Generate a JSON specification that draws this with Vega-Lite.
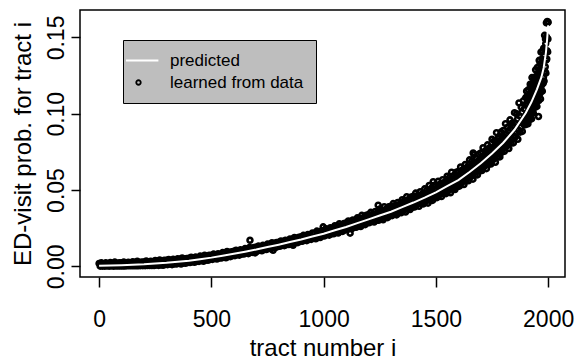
{
"$schema": "https://vega.github.io/schema/vega-lite/v6.json",
"width": 485, "height": 267,
"autosize": {"type": "none"},
"padding": {"left": 80, "top": 10, "right": 12, "bottom": 83},
"background": "white",
"config": {
  "font": "Liberation Sans",
  "view": {"stroke": "black", "strokeWidth": 1.5},
  "axis": {"domain": false, "grid": false, "ticks": true, "tickColor": "black", "tickWidth": 1.5, "labelColor": "black", "titleColor": "black", "labelFontSize": 23, "titleFontSize": 24, "titleFontWeight": "normal", "labelFont": "Liberation Sans", "titleFont": "Liberation Sans"}
},
"datasets": {
"learned": [
{"i":0,"v":0.0019,"s":"L"},{"i":5,"v":0.0001,"s":"L"},{"i":10,"v":0.0024,"s":"L"},{"i":15,"v":0.0001,"s":"L"},{"i":20,"v":0.0017,"s":"L"},{"i":25,"v":0.0001,"s":"L"},{"i":30,"v":0.0023,"s":"L"},{"i":35,"v":0.0002,"s":"L"},{"i":40,"v":0.0016,"s":"L"},{"i":45,"v":0.0001,"s":"L"},
{"i":50,"v":0.0025,"s":"L"},{"i":55,"v":0.0002,"s":"L"},{"i":60,"v":0.0020,"s":"L"},{"i":65,"v":0.0001,"s":"L"},{"i":70,"v":0.0028,"s":"L"},{"i":75,"v":0.0002,"s":"L"},{"i":80,"v":0.0020,"s":"L"},{"i":85,"v":0.0002,"s":"L"},{"i":90,"v":0.0023,"s":"L"},{"i":95,"v":0.0002,"s":"L"},
{"i":100,"v":0.0023,"s":"L"},{"i":105,"v":0.0002,"s":"L"},{"i":110,"v":0.0028,"s":"L"},{"i":115,"v":0.0002,"s":"L"},{"i":120,"v":0.0021,"s":"L"},{"i":125,"v":0.0003,"s":"L"},{"i":130,"v":0.0027,"s":"L"},{"i":135,"v":0.0003,"s":"L"},{"i":140,"v":0.0021,"s":"L"},{"i":145,"v":0.0003,"s":"L"},
{"i":150,"v":0.0030,"s":"L"},{"i":155,"v":0.0003,"s":"L"},{"i":160,"v":0.0025,"s":"L"},{"i":165,"v":0.0003,"s":"L"},{"i":170,"v":0.0034,"s":"L"},{"i":175,"v":0.0003,"s":"L"},{"i":180,"v":0.0025,"s":"L"},{"i":185,"v":0.0004,"s":"L"},{"i":190,"v":0.0029,"s":"L"},{"i":195,"v":0.0004,"s":"L"},
{"i":200,"v":0.0029,"s":"L"},{"i":205,"v":0.0004,"s":"L"},{"i":210,"v":0.0035,"s":"L"},{"i":215,"v":0.0005,"s":"L"},{"i":220,"v":0.0028,"s":"L"},{"i":225,"v":0.0005,"s":"L"},{"i":230,"v":0.0034,"s":"L"},{"i":235,"v":0.0005,"s":"L"},{"i":240,"v":0.0028,"s":"L"},{"i":245,"v":0.0005,"s":"L"},
{"i":250,"v":0.0038,"s":"L"},{"i":255,"v":0.0008,"s":"L"},{"i":260,"v":0.0033,"s":"L"},{"i":265,"v":0.0006,"s":"L"},{"i":270,"v":0.0042,"s":"L"},{"i":275,"v":0.0008,"s":"L"},{"i":280,"v":0.0035,"s":"L"},{"i":285,"v":0.0007,"s":"L"},{"i":290,"v":0.0039,"s":"L"},{"i":295,"v":0.0012,"s":"L"},
{"i":300,"v":0.0039,"s":"L"},{"i":305,"v":0.0011,"s":"L"},{"i":310,"v":0.0045,"s":"L"},{"i":315,"v":0.0015,"s":"L"},{"i":320,"v":0.0039,"s":"L"},{"i":325,"v":0.0011,"s":"L"},{"i":330,"v":0.0046,"s":"L"},{"i":335,"v":0.0016,"s":"L"},{"i":340,"v":0.0040,"s":"L"},{"i":345,"v":0.0015,"s":"L"},
{"i":350,"v":0.0050,"s":"L"},{"i":355,"v":0.0020,"s":"L"},{"i":360,"v":0.0046,"s":"L"},{"i":365,"v":0.0015,"s":"L"},{"i":370,"v":0.0055,"s":"L"},{"i":375,"v":0.0021,"s":"L"},{"i":380,"v":0.0048,"s":"L"},{"i":385,"v":0.0020,"s":"L"},{"i":390,"v":0.0052,"s":"L"},{"i":395,"v":0.0025,"s":"L"},
{"i":400,"v":0.0053,"s":"L"},{"i":405,"v":0.0025,"s":"L"},{"i":410,"v":0.0060,"s":"L"},{"i":415,"v":0.0030,"s":"L"},{"i":420,"v":0.0054,"s":"L"},{"i":425,"v":0.0026,"s":"L"},{"i":430,"v":0.0061,"s":"L"},{"i":435,"v":0.0032,"s":"L"},{"i":440,"v":0.0056,"s":"L"},{"i":445,"v":0.0032,"s":"L"},
{"i":450,"v":0.0067,"s":"L"},{"i":455,"v":0.0038,"s":"L"},{"i":460,"v":0.0063,"s":"L"},{"i":465,"v":0.0033,"s":"L"},{"i":470,"v":0.0073,"s":"L"},{"i":475,"v":0.0040,"s":"L"},{"i":480,"v":0.0067,"s":"L"},{"i":485,"v":0.0039,"s":"L"},{"i":490,"v":0.0072,"s":"L"},{"i":495,"v":0.0045,"s":"L"},
{"i":500,"v":0.0073,"s":"L"},{"i":505,"v":0.0045,"s":"L"},{"i":510,"v":0.0080,"s":"L"},{"i":515,"v":0.0051,"s":"L"},{"i":520,"v":0.0075,"s":"L"},{"i":525,"v":0.0048,"s":"L"},{"i":530,"v":0.0083,"s":"L"},{"i":535,"v":0.0054,"s":"L"},{"i":540,"v":0.0078,"s":"L"},{"i":545,"v":0.0054,"s":"L"},
{"i":550,"v":0.0090,"s":"L"},{"i":555,"v":0.0060,"s":"L"},{"i":560,"v":0.0086,"s":"L"},{"i":565,"v":0.0056,"s":"L"},{"i":570,"v":0.0097,"s":"L"},{"i":575,"v":0.0063,"s":"L"},{"i":580,"v":0.0091,"s":"L"},{"i":585,"v":0.0063,"s":"L"},{"i":590,"v":0.0096,"s":"L"},{"i":595,"v":0.0070,"s":"L"},
{"i":600,"v":0.0098,"s":"L"},{"i":605,"v":0.0070,"s":"L"},{"i":610,"v":0.0106,"s":"L"},{"i":615,"v":0.0076,"s":"L"},{"i":620,"v":0.0100,"s":"L"},{"i":625,"v":0.0073,"s":"L"},{"i":630,"v":0.0109,"s":"L"},{"i":635,"v":0.0080,"s":"L"},{"i":640,"v":0.0104,"s":"L"},{"i":645,"v":0.0080,"s":"L"},
{"i":650,"v":0.0116,"s":"L"},{"i":655,"v":0.0087,"s":"L"},{"i":660,"v":0.0113,"s":"L"},{"i":665,"v":0.0083,"s":"L"},{"i":670,"v":0.0124,"s":"L"},{"i":672,"v":0.0171,"s":"L"},{"i":675,"v":0.0091,"s":"L"},{"i":680,"v":0.0118,"s":"L"},{"i":685,"v":0.0091,"s":"L"},{"i":690,"v":0.0124,"s":"L"},{"i":695,"v":0.0088,"s":"L"},
{"i":700,"v":0.0126,"s":"L"},{"i":705,"v":0.0099,"s":"L"},{"i":710,"v":0.0134,"s":"L"},{"i":715,"v":0.0105,"s":"L"},{"i":720,"v":0.0129,"s":"L"},{"i":725,"v":0.0102,"s":"L"},{"i":730,"v":0.0138,"s":"L"},{"i":735,"v":0.0110,"s":"L"},{"i":740,"v":0.0134,"s":"L"},{"i":745,"v":0.0110,"s":"L"},
{"i":750,"v":0.0146,"s":"L"},{"i":755,"v":0.0117,"s":"L"},{"i":760,"v":0.0144,"s":"L"},{"i":765,"v":0.0114,"s":"L"},{"i":770,"v":0.0155,"s":"L"},{"i":775,"v":0.0105,"s":"L"},{"i":780,"v":0.0149,"s":"L"},{"i":785,"v":0.0122,"s":"L"},{"i":790,"v":0.0156,"s":"L"},{"i":795,"v":0.0129,"s":"L"},
{"i":800,"v":0.0158,"s":"L"},{"i":805,"v":0.0131,"s":"L"},{"i":810,"v":0.0166,"s":"L"},{"i":815,"v":0.0137,"s":"L"},{"i":820,"v":0.0162,"s":"L"},{"i":825,"v":0.0135,"s":"L"},{"i":830,"v":0.0171,"s":"L"},{"i":835,"v":0.0142,"s":"L"},{"i":840,"v":0.0167,"s":"L"},{"i":845,"v":0.0143,"s":"L"},
{"i":850,"v":0.0179,"s":"L"},{"i":855,"v":0.0150,"s":"L"},{"i":860,"v":0.0177,"s":"L"},{"i":864,"v":0.0138,"s":"L"},{"i":865,"v":0.0147,"s":"L"},{"i":870,"v":0.0189,"s":"L"},{"i":875,"v":0.0155,"s":"L"},{"i":880,"v":0.0184,"s":"L"},{"i":885,"v":0.0155,"s":"L"},{"i":890,"v":0.0191,"s":"L"},{"i":895,"v":0.0163,"s":"L"},
{"i":900,"v":0.0194,"s":"L"},{"i":905,"v":0.0164,"s":"L"},{"i":910,"v":0.0203,"s":"L"},{"i":915,"v":0.0171,"s":"L"},{"i":920,"v":0.0198,"s":"L"},{"i":925,"v":0.0168,"s":"L"},{"i":930,"v":0.0209,"s":"L"},{"i":935,"v":0.0176,"s":"L"},{"i":940,"v":0.0205,"s":"L"},{"i":945,"v":0.0176,"s":"L"},
{"i":950,"v":0.0219,"s":"L"},{"i":955,"v":0.0184,"s":"L"},{"i":960,"v":0.0217,"s":"L"},{"i":965,"v":0.0180,"s":"L"},{"i":970,"v":0.0231,"s":"L"},{"i":975,"v":0.0189,"s":"L"},{"i":980,"v":0.0224,"s":"L"},{"i":985,"v":0.0189,"s":"L"},{"i":990,"v":0.0232,"s":"L"},{"i":995,"v":0.0198,"s":"L"},{"i":998,"v":0.0259,"s":"L"},
{"i":1000,"v":0.0235,"s":"L"},{"i":1005,"v":0.0199,"s":"L"},{"i":1010,"v":0.0247,"s":"L"},{"i":1015,"v":0.0208,"s":"L"},{"i":1020,"v":0.0241,"s":"L"},{"i":1025,"v":0.0204,"s":"L"},{"i":1030,"v":0.0253,"s":"L"},{"i":1035,"v":0.0213,"s":"L"},{"i":1040,"v":0.0248,"s":"L"},{"i":1045,"v":0.0213,"s":"L"},
{"i":1050,"v":0.0266,"s":"L"},{"i":1055,"v":0.0223,"s":"L"},{"i":1060,"v":0.0262,"s":"L"},{"i":1065,"v":0.0218,"s":"L"},{"i":1070,"v":0.0279,"s":"L"},{"i":1075,"v":0.0228,"s":"L"},{"i":1080,"v":0.0270,"s":"L"},{"i":1085,"v":0.0229,"s":"L"},{"i":1090,"v":0.0280,"s":"L"},{"i":1095,"v":0.0239,"s":"L"},
{"i":1100,"v":0.0284,"s":"L"},{"i":1105,"v":0.0240,"s":"L"},{"i":1110,"v":0.0297,"s":"L"},{"i":1115,"v":0.0250,"s":"L"},{"i":1118,"v":0.0217,"s":"L"},{"i":1120,"v":0.0289,"s":"L"},{"i":1125,"v":0.0245,"s":"L"},{"i":1130,"v":0.0304,"s":"L"},{"i":1135,"v":0.0256,"s":"L"},{"i":1140,"v":0.0298,"s":"L"},{"i":1145,"v":0.0256,"s":"L"},
{"i":1150,"v":0.0318,"s":"L"},{"i":1155,"v":0.0267,"s":"L"},{"i":1160,"v":0.0314,"s":"L"},{"i":1165,"v":0.0261,"s":"L"},{"i":1170,"v":0.0334,"s":"L"},{"i":1175,"v":0.0273,"s":"L"},{"i":1180,"v":0.0323,"s":"L"},{"i":1185,"v":0.0273,"s":"L"},{"i":1190,"v":0.0335,"s":"L"},{"i":1195,"v":0.0285,"s":"L"},
{"i":1200,"v":0.0339,"s":"L"},{"i":1205,"v":0.0286,"s":"L"},{"i":1210,"v":0.0354,"s":"L"},{"i":1215,"v":0.0297,"s":"L"},{"i":1220,"v":0.0343,"s":"L"},{"i":1225,"v":0.0290,"s":"L"},{"i":1230,"v":0.0360,"s":"L"},{"i":1235,"v":0.0302,"s":"L"},{"i":1240,"v":0.0351,"s":"L"},{"i":1243,"v":0.0401,"s":"L"},{"i":1245,"v":0.0302,"s":"L"},
{"i":1250,"v":0.0375,"s":"L"},{"i":1255,"v":0.0314,"s":"L"},{"i":1260,"v":0.0368,"s":"L"},{"i":1265,"v":0.0305,"s":"L"},{"i":1270,"v":0.0391,"s":"L"},{"i":1275,"v":0.0320,"s":"L"},{"i":1280,"v":0.0378,"s":"L"},{"i":1285,"v":0.0319,"s":"L"},{"i":1290,"v":0.0390,"s":"L"},{"i":1295,"v":0.0332,"s":"L"},
{"i":1300,"v":0.0394,"s":"L"},{"i":1305,"v":0.0332,"s":"L"},{"i":1310,"v":0.0411,"s":"L"},{"i":1315,"v":0.0345,"s":"L"},{"i":1320,"v":0.0400,"s":"L"},{"i":1325,"v":0.0337,"s":"L"},{"i":1330,"v":0.0419,"s":"L"},{"i":1335,"v":0.0352,"s":"L"},{"i":1340,"v":0.0409,"s":"L"},{"i":1345,"v":0.0351,"s":"L"},
{"i":1350,"v":0.0437,"s":"L"},{"i":1355,"v":0.0366,"s":"L"},{"i":1360,"v":0.0430,"s":"L"},{"i":1365,"v":0.0356,"s":"L"},{"i":1370,"v":0.0456,"s":"L"},{"i":1375,"v":0.0373,"s":"L"},{"i":1380,"v":0.0441,"s":"L"},{"i":1385,"v":0.0372,"s":"L"},{"i":1390,"v":0.0455,"s":"L"},{"i":1395,"v":0.0387,"s":"L"},
{"i":1400,"v":0.0460,"s":"L"},{"i":1405,"v":0.0388,"s":"L"},{"i":1410,"v":0.0480,"s":"L"},{"i":1415,"v":0.0403,"s":"L"},{"i":1420,"v":0.0466,"s":"L"},{"i":1425,"v":0.0393,"s":"L"},{"i":1430,"v":0.0489,"s":"L"},{"i":1435,"v":0.0410,"s":"L"},{"i":1440,"v":0.0476,"s":"L"},{"i":1445,"v":0.0409,"s":"L"},
{"i":1450,"v":0.0508,"s":"L"},{"i":1455,"v":0.0426,"s":"L"},{"i":1460,"v":0.0499,"s":"L"},{"i":1465,"v":0.0414,"s":"L"},{"i":1470,"v":0.0530,"s":"L"},{"i":1475,"v":0.0433,"s":"L"},{"i":1480,"v":0.0512,"s":"L"},{"i":1485,"v":0.0432,"s":"L"},{"i":1488,"v":0.0555,"s":"L"},{"i":1490,"v":0.0529,"s":"L"},{"i":1495,"v":0.0449,"s":"L"},
{"i":1500,"v":0.0534,"s":"L"},{"i":1505,"v":0.0450,"s":"L"},{"i":1510,"v":0.0557,"s":"L"},{"i":1515,"v":0.0467,"s":"L"},{"i":1520,"v":0.0541,"s":"L"},{"i":1525,"v":0.0457,"s":"L"},{"i":1530,"v":0.0568,"s":"L"},{"i":1535,"v":0.0476,"s":"L"},{"i":1540,"v":0.0553,"s":"L"},{"i":1545,"v":0.0476,"s":"L"},
{"i":1550,"v":0.0591,"s":"L"},{"i":1555,"v":0.0495,"s":"L"},{"i":1560,"v":0.0581,"s":"L"},{"i":1565,"v":0.0482,"s":"L"},{"i":1570,"v":0.0617,"s":"L"},{"i":1575,"v":0.0504,"s":"L"},{"i":1580,"v":0.0596,"s":"L"},{"i":1585,"v":0.0503,"s":"L"},{"i":1590,"v":0.0616,"s":"L"},{"i":1595,"v":0.0523,"s":"L"},
{"i":1600,"v":0.0622,"s":"L"},{"i":1605,"v":0.0525,"s":"L"},{"i":1610,"v":0.0651,"s":"L"},{"i":1615,"v":0.0547,"s":"L"},{"i":1620,"v":0.0634,"s":"L"},{"i":1625,"v":0.0536,"s":"L"},{"i":1630,"v":0.0667,"s":"L"},{"i":1635,"v":0.0561,"s":"L"},{"i":1640,"v":0.0652,"s":"L"},{"i":1645,"v":0.0561,"s":"L"},
{"i":1650,"v":0.0698,"s":"L"},{"i":1655,"v":0.0586,"s":"L"},{"i":1660,"v":0.0688,"s":"L"},{"i":1665,"v":0.0571,"s":"L"},{"i":1666,"v":0.0743,"s":"L"},{"i":1670,"v":0.0732,"s":"L"},{"i":1675,"v":0.0599,"s":"L"},{"i":1680,"v":0.0709,"s":"L"},{"i":1685,"v":0.0599,"s":"L"},{"i":1690,"v":0.0734,"s":"L"},{"i":1695,"v":0.0624,"s":"L"},
{"i":1700,"v":0.0743,"s":"L"},{"i":1705,"v":0.0628,"s":"L"},{"i":1710,"v":0.0777,"s":"L"},{"i":1715,"v":0.0653,"s":"L"},{"i":1720,"v":0.0757,"s":"L"},{"i":1725,"v":0.0640,"s":"L"},{"i":1730,"v":0.0796,"s":"L"},{"i":1735,"v":0.0669,"s":"L"},{"i":1740,"v":0.0778,"s":"L"},{"i":1745,"v":0.0670,"s":"L"},
{"i":1750,"v":0.0833,"s":"L"},{"i":1755,"v":0.0699,"s":"L"},{"i":1760,"v":0.0822,"s":"L"},{"i":1765,"v":0.0682,"s":"L"},{"i":1770,"v":0.0876,"s":"L"},{"i":1775,"v":0.0716,"s":"L"},{"i":1779,"v":0.0840,"s":"L"},{"i":1780,"v":0.0849,"s":"L"},{"i":1785,"v":0.0717,"s":"L"},{"i":1790,"v":0.0880,"s":"L"},{"i":1795,"v":0.0749,"s":"L"},
{"i":1800,"v":0.0891,"s":"L"},{"i":1805,"v":0.0754,"s":"L"},{"i":1810,"v":0.0935,"s":"L"},{"i":1815,"v":0.0786,"s":"L"},{"i":1820,"v":0.0912,"s":"L"},{"i":1825,"v":0.0772,"s":"L"},{"i":1830,"v":0.0960,"s":"L"},{"i":1835,"v":0.0808,"s":"L"},{"i":1840,"v":0.0940,"s":"L"},{"i":1845,"v":0.0809,"s":"L"},
{"i":1850,"v":0.1007,"s":"L"},{"i":1855,"v":0.0849,"s":"L"},{"i":1860,"v":0.1000,"s":"L"},{"i":1865,"v":0.0833,"s":"L"},{"i":1870,"v":0.1071,"s":"L"},{"i":1875,"v":0.0879,"s":"L"},{"i":1880,"v":0.1043,"s":"L"},{"i":1885,"v":0.0884,"s":"L"},{"i":1890,"v":0.1086,"s":"L"},{"i":1895,"v":0.0927,"s":"L"},
{"i":1900,"v":0.1106,"s":"L"},{"i":1902,"v":0.0930,"s":"L"},{"i":1904,"v":0.1148,"s":"L"},{"i":1906,"v":0.0961,"s":"L"},{"i":1908,"v":0.1109,"s":"L"},{"i":1910,"v":0.0934,"s":"L"},{"i":1912,"v":0.1158,"s":"L"},{"i":1914,"v":0.0969,"s":"L"},{"i":1916,"v":0.1124,"s":"L"},{"i":1918,"v":0.0963,"s":"L"},
{"i":1920,"v":0.1194,"s":"L"},{"i":1922,"v":0.0999,"s":"L"},{"i":1924,"v":0.1168,"s":"L"},{"i":1926,"v":0.0966,"s":"L"},{"i":1927,"v":0.1190,"s":"L"},{"i":1928,"v":0.1237,"s":"L"},{"i":1930,"v":0.1009,"s":"L"},{"i":1932,"v":0.1192,"s":"L"},{"i":1934,"v":0.1005,"s":"L"},{"i":1936,"v":0.1229,"s":"L"},{"i":1938,"v":0.1043,"s":"L"},
{"i":1940,"v":0.1239,"s":"L"},{"i":1942,"v":0.1042,"s":"L"},{"i":1944,"v":0.1288,"s":"L"},{"i":1946,"v":0.1077,"s":"L"},{"i":1948,"v":0.1245,"s":"L"},{"i":1950,"v":0.1048,"s":"L"},{"i":1952,"v":0.1303,"s":"L"},{"i":1954,"v":0.1091,"s":"L"},{"i":1956,"v":0.1267,"s":"L"},{"i":1957,"v":0.0982,"s":"L"},{"i":1958,"v":0.1087,"s":"L"},
{"i":1960,"v":0.1350,"s":"L"},{"i":1962,"v":0.1130,"s":"L"},{"i":1964,"v":0.1326,"s":"L"},{"i":1966,"v":0.1097,"s":"L"},{"i":1968,"v":0.1404,"s":"L"},{"i":1970,"v":0.1146,"s":"L"},{"i":1972,"v":0.1358,"s":"L"},{"i":1974,"v":0.1148,"s":"L"},{"i":1976,"v":0.1410,"s":"L"},{"i":1978,"v":0.1200,"s":"L"},
{"i":1980,"v":0.1430,"s":"L"},{"i":1982,"v":0.1214,"s":"L"},{"i":1984,"v":0.1514,"s":"L"},{"i":1986,"v":0.1278,"s":"L"},{"i":1988,"v":0.1490,"s":"L"},{"i":1990,"v":0.1266,"s":"L"},{"i":1992,"v":0.1596,"s":"L"},{"i":1994,"v":0.1359,"s":"L"},{"i":1996,"v":0.1605,"s":"L"},{"i":1998,"v":0.1405,"s":"L"},{"i":2000,"v":0.1600,"s":"L"},
{"i":1003,"v":0.0225,"s":"L"},{"i":1008,"v":0.0208,"s":"L"},{"i":1013,"v":0.0229,"s":"L"},{"i":1018,"v":0.0212,"s":"L"},{"i":1023,"v":0.0234,"s":"L"},{"i":1028,"v":0.0216,"s":"L"},{"i":1033,"v":0.0239,"s":"L"},{"i":1038,"v":0.0220,"s":"L"},{"i":1043,"v":0.0243,"s":"L"},{"i":1048,"v":0.0225,"s":"L"},
{"i":1053,"v":0.0248,"s":"L"},{"i":1058,"v":0.0229,"s":"L"},{"i":1063,"v":0.0252,"s":"L"},{"i":1068,"v":0.0233,"s":"L"},{"i":1073,"v":0.0257,"s":"L"},{"i":1078,"v":0.0237,"s":"L"},{"i":1083,"v":0.0262,"s":"L"},{"i":1088,"v":0.0241,"s":"L"},{"i":1093,"v":0.0266,"s":"L"},{"i":1098,"v":0.0246,"s":"L"},
{"i":1103,"v":0.0271,"s":"L"},{"i":1108,"v":0.0250,"s":"L"},{"i":1113,"v":0.0276,"s":"L"},{"i":1118,"v":0.0255,"s":"L"},{"i":1123,"v":0.0281,"s":"L"},{"i":1128,"v":0.0260,"s":"L"},{"i":1133,"v":0.0287,"s":"L"},{"i":1138,"v":0.0265,"s":"L"},{"i":1143,"v":0.0292,"s":"L"},{"i":1148,"v":0.0269,"s":"L"},
{"i":1153,"v":0.0297,"s":"L"},{"i":1158,"v":0.0274,"s":"L"},{"i":1163,"v":0.0302,"s":"L"},{"i":1168,"v":0.0279,"s":"L"},{"i":1173,"v":0.0308,"s":"L"},{"i":1178,"v":0.0284,"s":"L"},{"i":1183,"v":0.0313,"s":"L"},{"i":1188,"v":0.0288,"s":"L"},{"i":1193,"v":0.0318,"s":"L"},{"i":1198,"v":0.0293,"s":"L"},
{"i":1203,"v":0.0323,"s":"L"},{"i":1208,"v":0.0298,"s":"L"},{"i":1213,"v":0.0329,"s":"L"},{"i":1218,"v":0.0303,"s":"L"},{"i":1223,"v":0.0334,"s":"L"},{"i":1228,"v":0.0308,"s":"L"},{"i":1233,"v":0.0339,"s":"L"},{"i":1238,"v":0.0312,"s":"L"},{"i":1243,"v":0.0344,"s":"L"},{"i":1248,"v":0.0317,"s":"L"},
{"i":1253,"v":0.0350,"s":"L"},{"i":1258,"v":0.0322,"s":"L"},{"i":1263,"v":0.0355,"s":"L"},{"i":1268,"v":0.0327,"s":"L"},{"i":1273,"v":0.0360,"s":"L"},{"i":1278,"v":0.0331,"s":"L"},{"i":1283,"v":0.0365,"s":"L"},{"i":1288,"v":0.0336,"s":"L"},{"i":1293,"v":0.0371,"s":"L"},{"i":1298,"v":0.0341,"s":"L"},
{"i":1303,"v":0.0376,"s":"L"},{"i":1308,"v":0.0347,"s":"L"},{"i":1313,"v":0.0382,"s":"L"},{"i":1318,"v":0.0352,"s":"L"},{"i":1323,"v":0.0389,"s":"L"},{"i":1328,"v":0.0358,"s":"L"},{"i":1333,"v":0.0395,"s":"L"},{"i":1338,"v":0.0364,"s":"L"},{"i":1343,"v":0.0401,"s":"L"},{"i":1348,"v":0.0370,"s":"L"},
{"i":1353,"v":0.0407,"s":"L"},{"i":1358,"v":0.0375,"s":"L"},{"i":1363,"v":0.0414,"s":"L"},{"i":1368,"v":0.0381,"s":"L"},{"i":1373,"v":0.0420,"s":"L"},{"i":1378,"v":0.0387,"s":"L"},{"i":1383,"v":0.0426,"s":"L"},{"i":1388,"v":0.0392,"s":"L"},{"i":1393,"v":0.0433,"s":"L"},{"i":1398,"v":0.0398,"s":"L"},
{"i":1403,"v":0.0439,"s":"L"},{"i":1408,"v":0.0404,"s":"L"},{"i":1413,"v":0.0446,"s":"L"},{"i":1418,"v":0.0411,"s":"L"},{"i":1423,"v":0.0453,"s":"L"},{"i":1428,"v":0.0417,"s":"L"},{"i":1433,"v":0.0460,"s":"L"},{"i":1438,"v":0.0423,"s":"L"},{"i":1443,"v":0.0467,"s":"L"},{"i":1448,"v":0.0430,"s":"L"},
{"i":1453,"v":0.0474,"s":"L"},{"i":1458,"v":0.0436,"s":"L"},{"i":1463,"v":0.0481,"s":"L"},{"i":1468,"v":0.0443,"s":"L"},{"i":1473,"v":0.0488,"s":"L"},{"i":1478,"v":0.0449,"s":"L"},{"i":1483,"v":0.0495,"s":"L"},{"i":1488,"v":0.0456,"s":"L"},{"i":1493,"v":0.0502,"s":"L"},{"i":1498,"v":0.0462,"s":"L"},
{"i":1503,"v":0.0509,"s":"L"},{"i":1508,"v":0.0469,"s":"L"},{"i":1513,"v":0.0518,"s":"L"},{"i":1518,"v":0.0477,"s":"L"},{"i":1523,"v":0.0526,"s":"L"},{"i":1528,"v":0.0484,"s":"L"},{"i":1533,"v":0.0534,"s":"L"},{"i":1538,"v":0.0492,"s":"L"},{"i":1543,"v":0.0543,"s":"L"},{"i":1548,"v":0.0500,"s":"L"},
{"i":1553,"v":0.0551,"s":"L"},{"i":1558,"v":0.0507,"s":"L"},{"i":1563,"v":0.0560,"s":"L"},{"i":1568,"v":0.0515,"s":"L"},{"i":1573,"v":0.0568,"s":"L"},{"i":1578,"v":0.0522,"s":"L"},{"i":1583,"v":0.0576,"s":"L"},{"i":1588,"v":0.0530,"s":"L"},{"i":1593,"v":0.0585,"s":"L"},{"i":1598,"v":0.0538,"s":"L"},
{"i":1603,"v":0.0593,"s":"L"},{"i":1608,"v":0.0548,"s":"L"},{"i":1613,"v":0.0605,"s":"L"},{"i":1618,"v":0.0559,"s":"L"},{"i":1623,"v":0.0616,"s":"L"},{"i":1628,"v":0.0569,"s":"L"},{"i":1633,"v":0.0628,"s":"L"},{"i":1638,"v":0.0580,"s":"L"},{"i":1643,"v":0.0639,"s":"L"},{"i":1648,"v":0.0590,"s":"L"},
{"i":1653,"v":0.0651,"s":"L"},{"i":1658,"v":0.0601,"s":"L"},{"i":1663,"v":0.0663,"s":"L"},{"i":1668,"v":0.0611,"s":"L"},{"i":1673,"v":0.0674,"s":"L"},{"i":1678,"v":0.0622,"s":"L"},{"i":1683,"v":0.0686,"s":"L"},{"i":1688,"v":0.0632,"s":"L"},{"i":1693,"v":0.0697,"s":"L"},{"i":1698,"v":0.0643,"s":"L"},
{"i":1703,"v":0.0709,"s":"L"},{"i":1708,"v":0.0654,"s":"L"},{"i":1713,"v":0.0722,"s":"L"},{"i":1718,"v":0.0667,"s":"L"},{"i":1723,"v":0.0736,"s":"L"},{"i":1728,"v":0.0679,"s":"L"},{"i":1733,"v":0.0750,"s":"L"},{"i":1738,"v":0.0691,"s":"L"},{"i":1743,"v":0.0763,"s":"L"},{"i":1748,"v":0.0704,"s":"L"},
{"i":1753,"v":0.0777,"s":"L"},{"i":1758,"v":0.0717,"s":"L"},{"i":1763,"v":0.0792,"s":"L"},{"i":1768,"v":0.0731,"s":"L"},{"i":1773,"v":0.0806,"s":"L"},{"i":1778,"v":0.0744,"s":"L"},{"i":1783,"v":0.0821,"s":"L"},{"i":1788,"v":0.0757,"s":"L"},{"i":1793,"v":0.0836,"s":"L"},{"i":1798,"v":0.0771,"s":"L"},
{"i":1803,"v":0.0851,"s":"L"},{"i":1808,"v":0.0787,"s":"L"},{"i":1813,"v":0.0868,"s":"L"},{"i":1818,"v":0.0803,"s":"L"},{"i":1823,"v":0.0886,"s":"L"},{"i":1828,"v":0.0819,"s":"L"},{"i":1833,"v":0.0904,"s":"L"},{"i":1838,"v":0.0836,"s":"L"},{"i":1843,"v":0.0922,"s":"L"},{"i":1848,"v":0.0852,"s":"L"},
{"i":1853,"v":0.0940,"s":"L"},{"i":1858,"v":0.0872,"s":"L"},{"i":1863,"v":0.0963,"s":"L"},{"i":1868,"v":0.0893,"s":"L"},{"i":1873,"v":0.0986,"s":"L"},{"i":1878,"v":0.0914,"s":"L"},{"i":1883,"v":0.1009,"s":"L"},{"i":1888,"v":0.0935,"s":"L"},{"i":1893,"v":0.1032,"s":"L"},{"i":1898,"v":0.0956,"s":"L"},
{"i":1901,"v":0.1058,"s":"L"},{"i":1903,"v":0.0967,"s":"L"},{"i":1905,"v":0.1070,"s":"L"},{"i":1907,"v":0.0979,"s":"L"},{"i":1909,"v":0.1082,"s":"L"},{"i":1911,"v":0.0989,"s":"L"},{"i":1913,"v":0.1093,"s":"L"},{"i":1915,"v":0.1000,"s":"L"},{"i":1917,"v":0.1106,"s":"L"},{"i":1919,"v":0.1010,"s":"L"},
{"i":1921,"v":0.1117,"s":"L"},{"i":1923,"v":0.1021,"s":"L"},{"i":1925,"v":0.1129,"s":"L"},{"i":1927,"v":0.1033,"s":"L"},{"i":1929,"v":0.1143,"s":"L"},{"i":1931,"v":0.1046,"s":"L"},{"i":1933,"v":0.1157,"s":"L"},{"i":1935,"v":0.1059,"s":"L"},{"i":1937,"v":0.1172,"s":"L"},{"i":1939,"v":0.1072,"s":"L"},
{"i":1941,"v":0.1185,"s":"L"},{"i":1943,"v":0.1085,"s":"L"},{"i":1945,"v":0.1200,"s":"L"},{"i":1947,"v":0.1098,"s":"L"},{"i":1949,"v":0.1215,"s":"L"},{"i":1951,"v":0.1112,"s":"L"},{"i":1953,"v":0.1231,"s":"L"},{"i":1955,"v":0.1127,"s":"L"},{"i":1957,"v":0.1247,"s":"L"},{"i":1959,"v":0.1142,"s":"L"},
{"i":1961,"v":0.1264,"s":"L"},{"i":1963,"v":0.1157,"s":"L"},{"i":1965,"v":0.1281,"s":"L"},{"i":1967,"v":0.1173,"s":"L"},{"i":1969,"v":0.1298,"s":"L"},{"i":1971,"v":0.1190,"s":"L"},{"i":1973,"v":0.1321,"s":"L"},{"i":1975,"v":0.1213,"s":"L"},{"i":1977,"v":0.1346,"s":"L"},{"i":1979,"v":0.1236,"s":"L"},
{"i":1981,"v":0.1376,"s":"L"},{"i":1983,"v":0.1270,"s":"L"},{"i":1985,"v":0.1418,"s":"L"},{"i":1987,"v":0.1308,"s":"L"},{"i":1989,"v":0.1460,"s":"L"},{"i":1991,"v":0.1352,"s":"L"},{"i":1993,"v":0.1504,"s":"L"},{"i":1995,"v":0.1413,"s":"L"},{"i":1997,"v":0.1596,"s":"L"},{"i":1999,"v":0.1490,"s":"L"}
],
"predicted": [
{"i":0,"v":0.0003,"s":"P"},{"i":50,"v":0.0005,"s":"P"},{"i":100,"v":0.0007,"s":"P"},{"i":150,"v":0.0010,"s":"P"},{"i":200,"v":0.0013,"s":"P"},{"i":250,"v":0.0018,"s":"P"},{"i":300,"v":0.0023,"s":"P"},{"i":350,"v":0.0030,"s":"P"},{"i":400,"v":0.0037,"s":"P"},{"i":450,"v":0.0047,"s":"P"},
{"i":500,"v":0.0057,"s":"P"},{"i":550,"v":0.0069,"s":"P"},{"i":600,"v":0.0082,"s":"P"},{"i":650,"v":0.0096,"s":"P"},{"i":700,"v":0.0110,"s":"P"},{"i":750,"v":0.0126,"s":"P"},{"i":800,"v":0.0142,"s":"P"},{"i":850,"v":0.0159,"s":"P"},{"i":900,"v":0.0176,"s":"P"},{"i":950,"v":0.0195,"s":"P"},
{"i":1000,"v":0.0214,"s":"P"},{"i":1050,"v":0.0236,"s":"P"},{"i":1100,"v":0.0258,"s":"P"},{"i":1150,"v":0.0283,"s":"P"},{"i":1200,"v":0.0308,"s":"P"},{"i":1250,"v":0.0333,"s":"P"},{"i":1300,"v":0.0358,"s":"P"},{"i":1350,"v":0.0388,"s":"P"},{"i":1400,"v":0.0418,"s":"P"},{"i":1450,"v":0.0450,"s":"P"},
{"i":1500,"v":0.0485,"s":"P"},{"i":1550,"v":0.0525,"s":"P"},{"i":1600,"v":0.0565,"s":"P"},{"i":1650,"v":0.0618,"s":"P"},{"i":1700,"v":0.0675,"s":"P"},{"i":1750,"v":0.0740,"s":"P"},{"i":1800,"v":0.0810,"s":"P"},{"i":1850,"v":0.0895,"s":"P"},{"i":1900,"v":0.1005,"s":"P"},{"i":1925,"v":0.1075,"s":"P"},
{"i":1950,"v":0.1160,"s":"P"},{"i":1970,"v":0.1240,"s":"P"},{"i":1980,"v":0.1300,"s":"P"},{"i":1990,"v":0.1400,"s":"P"},{"i":1995,"v":0.1480,"s":"P"},{"i":2000,"v":0.1580,"s":"P"}
]
},
"layer": [
{
"data": {"name": "learned"},
"mark": {"type": "point", "filled": false, "size": 24, "strokeWidth": 2.6, "opacity": 1},
"encoding": {
"x": {"field": "i", "type": "quantitative", "scale": {"domain": [-85, 2075], "nice": false, "zero": false},
  "axis": {"values": [0, 500, 1000, 1500, 2000], "format": "d", "tickSize": 10, "labelPadding": 21, "labelBaseline": "top", "labelAlign": "center", "labelFlush": false, "labelOverlap": false, "title": "tract number i", "titleX": 242.5, "titleY": 78, "titleBaseline": "alphabetic", "titleAlign": "center"}},
"y": {"field": "v", "type": "quantitative", "scale": {"domain": [-0.007, 0.168], "nice": false, "zero": false},
  "axis": {"values": [0, 0.05, 0.1, 0.15], "format": ".2f", "tickSize": 9, "labelPadding": 8, "labelAngle": 270, "labelAlign": "center", "labelBaseline": "alphabetic", "labelFlush": false, "labelOverlap": false, "title": "ED-visit prob. for tract i", "titleAngle": 270, "titleX": -50, "titleY": 133.5, "titleBaseline": "alphabetic", "titleAlign": "center"}},
"color": {"field": "s", "type": "nominal", "scale": {"domain": ["P", "L"], "range": ["white", "black"]},
  "legend": {"title": null, "orient": "none", "legendX": 43, "legendY": 30, "fillColor": "#bebebe", "strokeColor": "black", "padding": 12, "rowPadding": 4, "symbolSize": 20, "symbolOffset": -5, "symbolStrokeWidth": 1.8, "labelOffset": 23, "labelFontSize": 17, "labelFont": "Liberation Sans", "labelColor": "black", "labelLimit": 0, "labelExpr": "datum.value == 'P' ? 'predicted' : 'learned from data'"}},
"shape": {"field": "s", "type": "nominal", "scale": {"domain": ["P", "L"], "range": ["M-5.6,0H8.9", "circle"]},
  "legend": {"title": null, "orient": "none", "legendX": 43, "legendY": 30, "fillColor": "#bebebe", "strokeColor": "black", "padding": 12, "rowPadding": 4, "symbolSize": 20, "symbolOffset": -5, "symbolStrokeWidth": 1.8, "labelOffset": 23, "labelFontSize": 17, "labelFont": "Liberation Sans", "labelColor": "black", "labelLimit": 0, "labelExpr": "datum.value == 'P' ? 'predicted' : 'learned from data'"}}
}
},
{
"data": {"name": "predicted"},
"mark": {"type": "line", "strokeWidth": 2},
"encoding": {
"x": {"field": "i", "type": "quantitative"},
"y": {"field": "v", "type": "quantitative"},
"color": {"field": "s", "type": "nominal"}
}
}
]
}
